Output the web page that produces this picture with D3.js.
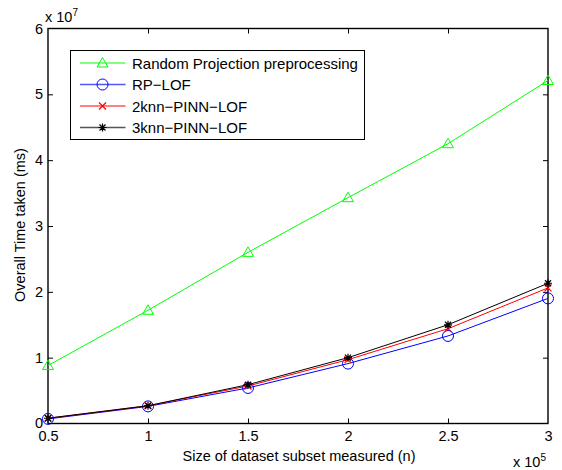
<!DOCTYPE html>
<html><head><meta charset="utf-8">
<script src="https://cdn.jsdelivr.net/npm/d3@7"></script>
<style>body{margin:0;background:#fff}svg{font-family:"Liberation Sans",Arial,sans-serif}</style>
</head><body>
<svg id="c" width="562" height="470"></svg>
<script>
const xValues = [0.5, 1, 1.5, 2, 2.5, 3];
const seriesNames = ["Random Projection preprocessing", "RP\u2212LOF", "2knn\u2212PINN\u2212LOF", "3knn\u2212PINN\u2212LOF"];
const randomProj = [0.88, 1.72, 2.60, 3.43, 4.25, 5.21];
const rpLof = [0.07, 0.26, 0.54, 0.91, 1.33, 1.90];
const knn2 = [0.08, 0.27, 0.57, 0.97, 1.44, 2.06];
const knn3 = [0.08, 0.27, 0.59, 1.00, 1.50, 2.13];
const xTicks = [0.5, 1, 1.5, 2, 2.5, 3];
const yTicks = [0, 1, 2, 3, 4, 5, 6];
const colors = ["#00ff00", "#0000ff", "#ff0000", "#000000"];
const markers = ["triangle", "circle", "x", "star"];

const svg = d3.select("#c");
const L = 48, R = 548, T = 28.5, B = 423.5;
const x = d3.scaleLinear().domain([0.5, 3]).range([L, R]);
const y = d3.scaleLinear().domain([0, 6]).range([B, T]);

const g = svg.append("g");
g.append("rect").attr("x", L).attr("y", T).attr("width", R - L).attr("height", B - T)
  .attr("fill", "none").attr("stroke", "#000").attr("stroke-width", 1.4);

const fs = 14.5;
const xa = svg.append("g").attr("transform", `translate(0,${B})`)
  .call(d3.axisBottom(x).tickValues(xTicks).tickSize(-5).tickPadding(7.5).tickFormat(d3.format("")));
const xt = svg.append("g").attr("transform", `translate(0,${T})`)
  .call(d3.axisTop(x).tickValues(xTicks).tickSize(-5).tickFormat(""));
const ya = svg.append("g").attr("transform", `translate(${L},0)`)
  .call(d3.axisLeft(y).tickValues(yTicks).tickSize(-5).tickPadding(5).tickFormat(d3.format("d")));
const yr = svg.append("g").attr("transform", `translate(${R},0)`)
  .call(d3.axisRight(y).tickValues(yTicks).tickSize(-5).tickFormat(""));
[xa, xt, ya, yr].forEach(a => {
  a.select(".domain").remove();
  a.selectAll("text").attr("font-size", fs).attr("font-family", "Liberation Sans, Arial, sans-serif").attr("fill", "#000");
  a.selectAll("line").attr("stroke", "#000");
});
xa.selectAll("line").filter(d => d === 0.5 || d === 3).remove();
xt.selectAll("line").filter(d => d === 0.5 || d === 3).remove();
ya.selectAll("line").filter(d => d === 0 || d === 6).remove();
yr.selectAll("line").filter(d => d === 0 || d === 6).remove();
ya.selectAll("text").filter(d => d === 0).attr("dy", "0.25em");

const e7 = svg.append("text").attr("x", L - 3).attr("y", 22).attr("font-size", fs);
e7.append("tspan").text("x 10");
e7.append("tspan").attr("dy", -6).attr("font-size", 10).text("7");
const e5 = svg.append("text").attr("x", 513).attr("y", 467).attr("font-size", fs);
e5.append("tspan").text("x 10");
e5.append("tspan").attr("dy", -6).attr("font-size", 10).text("5");

svg.append("text").attr("x", 299).attr("y", 461).attr("text-anchor", "middle")
  .attr("font-size", 14.5).text("Size of dataset subset measured (n)");
svg.append("text").attr("transform", `translate(25,225) rotate(-90)`)
  .attr("text-anchor", "middle").attr("font-size", 14.5).text("Overall Time taken (ms)");

function drawMarker(sel, type, color) {
  if (type === "triangle") {
    sel.append("path").attr("d", "M0,-5.5L5.5,4L-5.5,4Z").attr("fill", "none").attr("stroke", color).attr("stroke-width", 1);
  } else if (type === "circle") {
    sel.append("circle").attr("r", 5.5).attr("fill", "none").attr("stroke", color).attr("stroke-width", 1);
  } else if (type === "x") {
    sel.append("path").attr("d", "M-3.5,-3.5L3.5,3.5M-3.5,3.5L3.5,-3.5").attr("stroke", color).attr("stroke-width", 1.2);
  } else {
    sel.append("path").attr("d", "M-4,0L4,0M0,-4L0,4M-3,-3L3,3M-3,3L3,-3").attr("stroke", color).attr("stroke-width", 1.2);
  }
}

const allSeries = [randomProj, rpLof, knn2, knn3];
const line = d3.line().x((d, i) => x(xValues[i])).y(d => y(d));
allSeries.forEach((s, k) => {
  svg.append("path").datum(s).attr("d", line).attr("fill", "none")
    .attr("stroke", colors[k]).attr("stroke-width", 1);
  s.forEach((v, i) => {
    const m = svg.append("g").attr("transform", `translate(${x(xValues[i])},${y(v)})`);
    drawMarker(m, markers[k], colors[k]);
  });
});

const lg = svg.append("g");
lg.append("rect").attr("x", 70.5).attr("y", 50.5).attr("width", 294).attr("height", 89)
  .attr("fill", "#fff").attr("stroke", "#000").attr("stroke-width", 1);
const legY = [63, 84.5, 106, 127.5];
const legW = [1, 1.6, 1, 1.6];
const legC = ["#00ff00", "#5555ff", "#ff0000", "#555555"];
seriesNames.forEach((n, k) => {
  lg.append("line").attr("x1", 80).attr("x2", 125.5).attr("y1", legY[k]).attr("y2", legY[k])
    .attr("stroke", legC[k]).attr("stroke-width", legW[k]);
  drawMarker(lg.append("g").attr("transform", `translate(102.5,${legY[k]})`), markers[k], colors[k]);
  lg.append("text").attr("x", 132).attr("y", legY[k] + 5.5).attr("font-size", 15).text(n);
});
</script>
</body></html>
